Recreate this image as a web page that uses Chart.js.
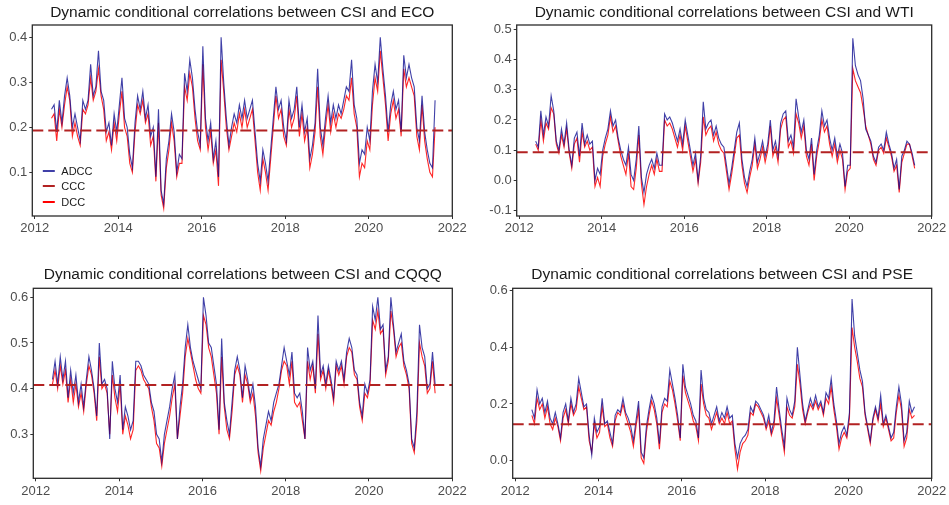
<!DOCTYPE html>
<html>
<head>
<meta charset="utf-8">
<script src="https://cdn.jsdelivr.net/npm/chart.js@4.4.1/dist/chart.umd.min.js"></script>
<style>
  body { margin: 0; background: #fff; width: 949px; height: 505px; position: relative; overflow: hidden; }
  .panel { position: absolute; }
</style>
</head>
<body>
<div class="panel" style="left:0;top:0"><canvas id="c1" width="470" height="250"></canvas></div>
<div class="panel" style="left:470px;top:0"><canvas id="c2" width="479" height="250"></canvas></div>
<div class="panel" style="left:0;top:250px"><canvas id="c3" width="470" height="255"></canvas></div>
<div class="panel" style="left:470px;top:250px"><canvas id="c4" width="479" height="255"></canvas></div>
<script>
// time index: one value every 1/16 year, from 2012.40 on
const startYear = 2012.40;
const step = 1 / 16;
const yearTicks = [2012, 2014, 2016, 2018, 2020, 2022];
const seriesNames = ["ADCC", "CCC", "DCC"];

// CSI - ECO
const ecoAdcc = [
  0.24, 0.25, 0.19, 0.26, 0.21, 0.27, 0.31, 0.27, 0.20, 0.23,
  0.20, 0.17, 0.26, 0.24, 0.26, 0.34, 0.27, 0.29, 0.37, 0.28, 0.26, 0.19, 0.21, 0.16, 0.23, 0.19,
  0.25, 0.31, 0.22, 0.20, 0.14, 0.11, 0.21, 0.27, 0.24, 0.28, 0.22, 0.25, 0.18, 0.20, 0.09, 0.24,
  0.06, 0.03, 0.13, 0.17, 0.23, 0.19, 0.10, 0.14, 0.13, 0.32, 0.28, 0.35, 0.31, 0.24, 0.19, 0.16,
  0.38, 0.22, 0.17, 0.21, 0.13, 0.17, 0.09, 0.40, 0.30, 0.22, 0.16, 0.20, 0.23, 0.21, 0.25, 0.22,
  0.26, 0.22, 0.24, 0.26, 0.19, 0.12, 0.08, 0.15, 0.12, 0.08, 0.15, 0.22, 0.29, 0.24, 0.26, 0.20,
  0.17, 0.26, 0.22, 0.24, 0.29, 0.20, 0.25, 0.19, 0.22, 0.13, 0.16, 0.21, 0.33, 0.20, 0.16, 0.22,
  0.27, 0.21, 0.25, 0.22, 0.25, 0.23, 0.26, 0.29, 0.28, 0.35, 0.25, 0.22, 0.12, 0.15, 0.14, 0.20,
  0.17, 0.28, 0.34, 0.30, 0.40, 0.33, 0.27, 0.19, 0.25, 0.28, 0.24, 0.26, 0.19, 0.36, 0.31, 0.34,
  0.31, 0.29, 0.20, 0.17, 0.27, 0.19, 0.15, 0.12, 0.11, 0.26
];
const ecoDcc = [
  0.22, 0.23, 0.17, 0.24, 0.20, 0.25, 0.29, 0.26, 0.18, 0.21,
  0.18, 0.16, 0.24, 0.23, 0.25, 0.31, 0.26, 0.28, 0.33, 0.27, 0.24, 0.17, 0.19, 0.15, 0.21, 0.17,
  0.23, 0.28, 0.20, 0.18, 0.12, 0.10, 0.19, 0.25, 0.23, 0.26, 0.21, 0.23, 0.16, 0.18, 0.08, 0.21,
  0.05, 0.02, 0.11, 0.15, 0.21, 0.17, 0.09, 0.12, 0.12, 0.29, 0.26, 0.32, 0.29, 0.22, 0.17, 0.15,
  0.34, 0.20, 0.15, 0.19, 0.12, 0.15, 0.07, 0.35, 0.28, 0.20, 0.15, 0.18, 0.21, 0.19, 0.23, 0.20,
  0.24, 0.20, 0.22, 0.24, 0.17, 0.10, 0.06, 0.13, 0.10, 0.06, 0.13, 0.20, 0.27, 0.22, 0.24, 0.18,
  0.16, 0.24, 0.20, 0.22, 0.27, 0.18, 0.23, 0.17, 0.20, 0.11, 0.14, 0.19, 0.29, 0.18, 0.14, 0.20,
  0.25, 0.19, 0.23, 0.20, 0.23, 0.22, 0.24, 0.27, 0.26, 0.31, 0.23, 0.20, 0.09, 0.12, 0.11, 0.17,
  0.15, 0.25, 0.31, 0.28, 0.37, 0.31, 0.25, 0.17, 0.23, 0.26, 0.22, 0.24, 0.18, 0.33, 0.29, 0.31,
  0.29, 0.27, 0.18, 0.15, 0.25, 0.17, 0.13, 0.10, 0.09, 0.20
];
const ecoCcc = 0.193;
const ecoTicks = [0.1, 0.2, 0.3, 0.4];

// CSI - WTI
const wtiAdcc = [
  0.13, 0.11, 0.23, 0.15, 0.21, 0.18, 0.28, 0.23, 0.13, 0.10,
  0.17, 0.12, 0.19, 0.10, 0.05, 0.14, 0.16, 0.08, 0.19, 0.12, 0.15, 0.12, 0.13, 0.00, 0.04, 0.02,
  0.10, 0.14, 0.17, 0.23, 0.18, 0.20, 0.14, 0.10, 0.07, 0.05, 0.11, 0.02, 0.00, 0.07, 0.18, 0.01,
  -0.04, 0.02, 0.05, 0.07, 0.04, 0.09, 0.05, 0.05, 0.22, 0.20, 0.21, 0.19, 0.16, 0.13, 0.17, 0.12,
  0.20, 0.15, 0.10, 0.05, 0.09, 0.00, 0.08, 0.26, 0.17, 0.19, 0.20, 0.15, 0.18, 0.14, 0.12, 0.11,
  0.05, -0.01, 0.04, 0.10, 0.16, 0.19, 0.07, 0.01, -0.02, 0.03, 0.07, 0.14, 0.06, 0.09, 0.13, 0.08,
  0.12, 0.20, 0.10, 0.13, 0.08, 0.19, 0.22, 0.23, 0.13, 0.15, 0.11, 0.27, 0.21, 0.16, 0.20, 0.10,
  0.07, 0.14, 0.02, 0.10, 0.15, 0.23, 0.18, 0.20, 0.14, 0.10, 0.14, 0.08, 0.12, 0.09, -0.02, 0.05,
  0.05, 0.47, 0.38, 0.35, 0.33, 0.27, 0.17, 0.15, 0.13, 0.08, 0.06, 0.11, 0.12, 0.10, 0.16, 0.12,
  0.09, 0.04, 0.07, -0.03, 0.08, 0.10, 0.13, 0.12, 0.09, 0.05
];
const wtiDcc = [
  0.12, 0.10, 0.20, 0.13, 0.19, 0.17, 0.24, 0.22, 0.12, 0.09,
  0.15, 0.11, 0.17, 0.09, 0.04, 0.12, 0.14, 0.06, 0.16, 0.11, 0.13, 0.10, 0.11, -0.02, 0.01, -0.02,
  0.08, 0.12, 0.15, 0.21, 0.16, 0.18, 0.13, 0.08, 0.05, 0.02, 0.09, -0.02, -0.03, 0.04, 0.15, -0.01,
  -0.08, -0.02, 0.02, 0.05, 0.02, 0.07, 0.03, 0.03, 0.20, 0.18, 0.19, 0.17, 0.14, 0.11, 0.15, 0.10,
  0.18, 0.13, 0.08, 0.03, 0.07, -0.01, 0.06, 0.21, 0.15, 0.17, 0.18, 0.13, 0.16, 0.12, 0.10, 0.09,
  0.03, -0.03, 0.02, 0.08, 0.14, 0.15, 0.05, -0.01, -0.04, 0.01, 0.05, 0.12, 0.04, 0.07, 0.11, 0.06,
  0.10, 0.18, 0.08, 0.11, 0.06, 0.17, 0.20, 0.21, 0.11, 0.13, 0.09, 0.22, 0.19, 0.14, 0.18, 0.08,
  0.05, 0.12, 0.00, 0.08, 0.13, 0.20, 0.16, 0.18, 0.12, 0.08, 0.12, 0.06, 0.10, 0.07, -0.03, 0.03,
  0.04, 0.37, 0.33, 0.31, 0.29, 0.24, 0.18, 0.15, 0.12, 0.07, 0.05, 0.10, 0.11, 0.09, 0.14, 0.11,
  0.08, 0.03, 0.05, -0.04, 0.06, 0.09, 0.12, 0.12, 0.08, 0.04
];
const wtiCcc = 0.093;
const wtiTicks = [-0.1, 0, 0.1, 0.2, 0.3, 0.4, 0.5];

// CSI - CQQQ
const cqqqAdcc = [
  0.42, 0.46, 0.41, 0.47, 0.42, 0.46, 0.38, 0.44, 0.39, 0.43,
  0.37, 0.41, 0.36, 0.42, 0.47, 0.44, 0.40, 0.34, 0.50, 0.41, 0.42, 0.40, 0.29, 0.46, 0.40, 0.37,
  0.43, 0.31, 0.36, 0.34, 0.31, 0.33, 0.46, 0.46, 0.45, 0.43, 0.42, 0.41, 0.37, 0.35, 0.30, 0.29,
  0.24, 0.30, 0.33, 0.36, 0.40, 0.43, 0.29, 0.36, 0.41, 0.49, 0.54, 0.49, 0.46, 0.44, 0.42, 0.40,
  0.60, 0.56, 0.50, 0.49, 0.45, 0.41, 0.31, 0.51, 0.37, 0.33, 0.30, 0.37, 0.44, 0.47, 0.44, 0.38,
  0.45, 0.42, 0.38, 0.41, 0.36, 0.27, 0.23, 0.29, 0.32, 0.35, 0.33, 0.37, 0.39, 0.41, 0.45, 0.49,
  0.46, 0.43, 0.48, 0.39, 0.38, 0.39, 0.35, 0.29, 0.49, 0.44, 0.46, 0.40, 0.56, 0.43, 0.45, 0.41,
  0.45, 0.42, 0.38, 0.46, 0.44, 0.46, 0.42, 0.48, 0.51, 0.49, 0.44, 0.43, 0.37, 0.34, 0.41, 0.39,
  0.42, 0.58, 0.55, 0.60, 0.53, 0.54, 0.44, 0.47, 0.60, 0.54, 0.48, 0.50, 0.52, 0.46, 0.44, 0.41,
  0.29, 0.27, 0.35, 0.54, 0.49, 0.47, 0.40, 0.41, 0.48, 0.41
];
const cqqqDcc = [
  0.41, 0.44, 0.40, 0.45, 0.41, 0.44, 0.37, 0.42, 0.37, 0.41,
  0.36, 0.39, 0.35, 0.41, 0.45, 0.43, 0.39, 0.33, 0.47, 0.40, 0.41, 0.39, 0.30, 0.43, 0.38, 0.35,
  0.41, 0.30, 0.34, 0.32, 0.29, 0.31, 0.44, 0.45, 0.44, 0.42, 0.41, 0.40, 0.36, 0.33, 0.28, 0.27,
  0.23, 0.28, 0.31, 0.34, 0.38, 0.41, 0.29, 0.34, 0.39, 0.47, 0.51, 0.48, 0.45, 0.42, 0.40, 0.39,
  0.56, 0.54, 0.49, 0.47, 0.43, 0.39, 0.30, 0.47, 0.36, 0.31, 0.29, 0.35, 0.43, 0.45, 0.43, 0.37,
  0.43, 0.41, 0.37, 0.39, 0.34, 0.26, 0.22, 0.27, 0.30, 0.33, 0.32, 0.35, 0.37, 0.40, 0.44, 0.46,
  0.45, 0.41, 0.46, 0.37, 0.36, 0.37, 0.33, 0.29, 0.46, 0.42, 0.45, 0.39, 0.52, 0.42, 0.44, 0.40,
  0.44, 0.41, 0.37, 0.45, 0.43, 0.45, 0.41, 0.47, 0.49, 0.48, 0.43, 0.42, 0.36, 0.33, 0.39, 0.38,
  0.41, 0.55, 0.53, 0.57, 0.52, 0.53, 0.43, 0.46, 0.57, 0.53, 0.47, 0.49, 0.50, 0.45, 0.43, 0.40,
  0.28, 0.26, 0.33, 0.50, 0.47, 0.45, 0.39, 0.40, 0.46, 0.39
];
const cqqqCcc = 0.408;
const cqqqTicks = [0.3, 0.4, 0.5, 0.6];

// CSI - PSE
const pseAdcc = [
  0.18, 0.15, 0.25, 0.20, 0.22, 0.17, 0.21, 0.15, 0.13, 0.17,
  0.13, 0.08, 0.17, 0.20, 0.14, 0.22, 0.17, 0.20, 0.29, 0.24, 0.19, 0.20, 0.09, 0.02, 0.15, 0.10,
  0.12, 0.22, 0.13, 0.14, 0.10, 0.06, 0.16, 0.18, 0.17, 0.22, 0.17, 0.15, 0.12, 0.07, 0.14, 0.21,
  0.03, 0.01, 0.12, 0.18, 0.23, 0.20, 0.15, 0.06, 0.19, 0.22, 0.21, 0.32, 0.27, 0.22, 0.16, 0.08,
  0.34, 0.26, 0.23, 0.20, 0.16, 0.14, 0.08, 0.32, 0.22, 0.18, 0.17, 0.13, 0.16, 0.19, 0.14, 0.17,
  0.15, 0.19, 0.15, 0.16, 0.06, 0.01, 0.06, 0.08, 0.09, 0.11, 0.19, 0.17, 0.21, 0.20, 0.18, 0.16,
  0.12, 0.16, 0.10, 0.14, 0.26, 0.18, 0.11, 0.05, 0.22, 0.18, 0.16, 0.21, 0.40, 0.30, 0.20, 0.14,
  0.18, 0.22, 0.19, 0.23, 0.19, 0.21, 0.17, 0.24, 0.22, 0.29, 0.20, 0.14, 0.06, 0.10, 0.12, 0.09,
  0.17, 0.57, 0.44, 0.38, 0.32, 0.28, 0.17, 0.12, 0.07, 0.15, 0.19, 0.15, 0.23, 0.13, 0.16, 0.12,
  0.08, 0.10, 0.19, 0.26, 0.20, 0.07, 0.10, 0.21, 0.17, 0.19
];
const pseDcc = [
  0.16, 0.13, 0.22, 0.18, 0.20, 0.15, 0.19, 0.13, 0.11, 0.15,
  0.12, 0.07, 0.15, 0.18, 0.13, 0.20, 0.16, 0.18, 0.26, 0.22, 0.18, 0.19, 0.07, 0.03, 0.13, 0.08,
  0.10, 0.19, 0.12, 0.13, 0.08, 0.05, 0.14, 0.17, 0.16, 0.20, 0.16, 0.13, 0.10, 0.05, 0.12, 0.18,
  0.01, -0.01, 0.10, 0.16, 0.21, 0.18, 0.13, 0.04, 0.17, 0.20, 0.19, 0.28, 0.25, 0.20, 0.14, 0.07,
  0.30, 0.24, 0.21, 0.18, 0.14, 0.12, 0.07, 0.27, 0.20, 0.16, 0.15, 0.11, 0.14, 0.17, 0.13, 0.15,
  0.13, 0.17, 0.13, 0.14, 0.04, -0.03, 0.03, 0.06, 0.07, 0.09, 0.17, 0.16, 0.20, 0.19, 0.17, 0.15,
  0.11, 0.14, 0.09, 0.12, 0.22, 0.16, 0.09, 0.03, 0.19, 0.16, 0.15, 0.19, 0.34, 0.27, 0.18, 0.13,
  0.17, 0.20, 0.18, 0.21, 0.18, 0.20, 0.16, 0.22, 0.20, 0.26, 0.18, 0.12, 0.04, 0.08, 0.10, 0.08,
  0.15, 0.47, 0.40, 0.35, 0.29, 0.26, 0.16, 0.11, 0.06, 0.14, 0.18, 0.14, 0.20, 0.12, 0.15, 0.11,
  0.07, 0.08, 0.17, 0.23, 0.18, 0.05, 0.08, 0.18, 0.15, 0.16
];
const pseCcc = 0.128;
const pseTicks = [0, 0.2, 0.4, 0.6];

const xMin = 2011.94, xMax = 2022.0;

const panels = [
  { id: "c1", title: "Dynamic conditional correlations between CSI and ECO", adcc: ecoAdcc, dcc: ecoDcc, ccc: ecoCcc,
    ticks: ecoTicks, yMin: 0.003, yMax: 0.4274, left: 32.3, right: 17.7, top: 25, bottom: 34, titleY: 13, legend: true },
  { id: "c2", title: "Dynamic conditional correlations between CSI and WTI", adcc: wtiAdcc, dcc: wtiDcc, ccc: wtiCcc,
    ticks: wtiTicks, yMin: -0.1176, yMax: 0.514, left: 46.7, right: 17.3, top: 25, bottom: 34, titleY: 13 },
  { id: "c3", title: "Dynamic conditional correlations between CSI and CQQQ", adcc: cqqqAdcc, dcc: cqqqDcc, ccc: cqqqCcc,
    ticks: cqqqTicks, yMin: 0.2037, yMax: 0.6197, left: 33.3, right: 17.7, top: 38.3, bottom: 26.7, titleY: 25 },
  { id: "c4", title: "Dynamic conditional correlations between CSI and PSE", adcc: pseAdcc, dcc: pseDcc, ccc: pseCcc,
    ticks: pseTicks, yMin: -0.0624, yMax: 0.6082, left: 42.7, right: 17.3, top: 38.3, bottom: 26.7, titleY: 25 }
];

const BLUE = "rgba(0,0,139,0.75)";
const RED = "rgba(255,0,0,0.85)";
const BROWN = "#B22222";

Chart.defaults.font.family = "'Liberation Sans', Arial, sans-serif";

const toPoints = arr => arr.map((v, i) => ({ x: startYear + i * step, y: v }));

const frame = {
  id: "frame",
  afterDraw(chart) {
    const ctx = chart.ctx, a = chart.chartArea, p = chart.options.plugins.frame;
    ctx.save();
    ctx.strokeStyle = "#2b2b2b";
    ctx.lineWidth = 1.3;
    ctx.strokeRect(a.left, a.top, a.right - a.left, a.bottom - a.top);
    ctx.fillStyle = "#1a1a1a";
    ctx.font = "15.5px 'Liberation Sans', Arial, sans-serif";
    ctx.textAlign = "center";
    ctx.textBaseline = "middle";
    ctx.fillText(p.title, (a.left + a.right) / 2, p.titleY);
    if (p.legend) {
      const colors = [BLUE, BROWN, "#FF0000"];
      const rows = [171, 186, 202];
      ctx.font = "11px 'Liberation Sans', Arial, sans-serif";
      ctx.textAlign = "left";
      seriesNames.forEach((name, k) => {
        ctx.strokeStyle = colors[k];
        ctx.lineWidth = 2;
        ctx.beginPath();
        ctx.moveTo(a.left + 10.5, rows[k]);
        ctx.lineTo(a.left + 22.5, rows[k]);
        ctx.stroke();
        ctx.fillStyle = "#1a1a1a";
        ctx.fillText(name, a.left + 29, rows[k] + 0.5);
      });
    }
    ctx.restore();
  }
};

panels.forEach(p => {
  new Chart(document.getElementById(p.id), {
    type: "line",
    data: {
      datasets: [
        { label: "CCC", data: [{ x: xMin, y: p.ccc }, { x: xMax, y: p.ccc }], borderColor: BROWN, borderWidth: 2, borderDash: [11, 5] },
        { label: "ADCC", data: toPoints(p.adcc), borderColor: BLUE, borderWidth: 1.1 },
        { label: "DCC", data: toPoints(p.dcc), borderColor: RED, borderWidth: 1.1 }
      ]
    },
    options: {
      responsive: false,
      animation: false,
      devicePixelRatio: 1,
      events: [],
      elements: { point: { radius: 0 }, line: { tension: 0 } },
      layout: { padding: { left: 0, right: p.right, top: p.top, bottom: 0 } },
      plugins: {
        legend: { display: false },
        tooltip: { enabled: false },
        frame: { title: p.title, titleY: p.titleY, legend: !!p.legend }
      },
      scales: {
        x: {
          type: "linear", min: xMin, max: xMax,
          afterBuildTicks: s => { s.ticks = yearTicks.map(v => ({ value: v })); },
          afterFit: s => { s.height = p.bottom; s.paddingLeft = 0; s.paddingRight = 0; },
          grid: { drawOnChartArea: false, tickLength: 3, tickColor: "#333", color: "#333" },
          border: { display: false },
          ticks: { color: "#4D4D4D", font: { size: 13 }, padding: 2, maxRotation: 0, autoSkip: false, callback: v => String(v) }
        },
        y: {
          min: p.yMin, max: p.yMax,
          afterBuildTicks: s => { s.ticks = p.ticks.map(v => ({ value: v })); },
          afterFit: s => { s.width = p.left; s.paddingTop = 0; s.paddingBottom = 0; },
          grid: { drawOnChartArea: false, tickLength: 3, tickColor: "#333", color: "#333" },
          border: { display: false },
          ticks: { color: "#4D4D4D", font: { size: 13 }, padding: 2, callback: v => v.toFixed(1) }
        }
      }
    },
    plugins: [frame]
  });
});
</script>
</body>
</html>
